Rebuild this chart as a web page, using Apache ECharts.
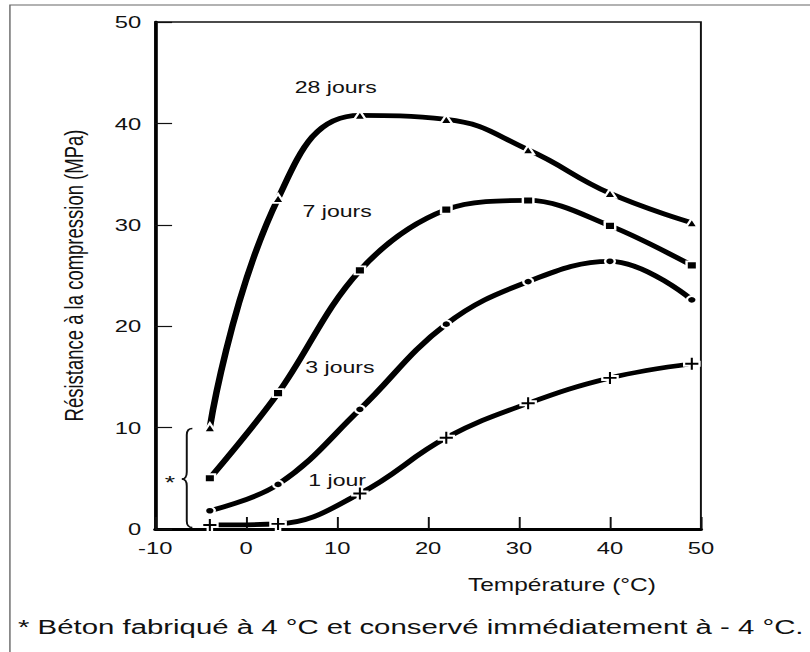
<!DOCTYPE html>
<html>
<head>
<meta charset="utf-8">
<script src="https://cdn.jsdelivr.net/npm/echarts@6/dist/echarts.min.js"></script>
<style>
  html, body { margin: 0; padding: 0; background: #fff; overflow: hidden; }
  #chart { width: 579px; height: 652px; transform: scaleX(1.399); transform-origin: 0 0; }
</style>
</head>
<body>
<div id="chart"></div>
<script>
// Data
const temperatures = [-4, 3.5, 12.5, 22, 31, 40, 49];
const jours28 = [10, 32.6, 40.8, 40.4, 37.4, 33.1, 30.2];
const jours7  = [5, 13.4, 25.5, 31.5, 32.4, 29.9, 26.0];
const jours3  = [1.8, 4.4, 11.8, 20.2, 24.4, 26.4, 22.6];
const jour1   = [0.4, 0.5, 3.5, 9.0, 12.4, 14.9, 16.3];
const seriesNames = ['28 jours', '7 jours', '3 jours', '1 jour'];
const xTicks = [-10, 0, 10, 20, 30, 40, 50];
const yTicks = [0, 10, 20, 30, 40, 50];
const xTitle = 'Température (°C)';
const yTitle = 'Résistance à la compression (MPa)';
const footnote = '* Béton fabriqué à 4 °C et conservé immédiatement à - 4 °C.';

const FONT = '"Liberation Sans", Arial, Helvetica, sans-serif';
const PLUS = 'path://M3.6,0H6.4V3.6H10V6.4H6.4V10H3.6V6.4H0V3.6H3.6Z';

function pairs(ys) { return temperatures.map((t, i) => [t, ys[i]]); }

function curve(name, ys, symbol, size, smooth) {
  return {
    name: name,
    type: 'line',
    data: pairs(ys),
    smooth: smooth,
    symbol: symbol,
    symbolSize: size,
    showSymbol: true,
    lineStyle: { color: '#000', width: 4.7 },
    itemStyle: { color: '#000', borderColor: '#fff', borderWidth: 1.8 },
    emphasis: { disabled: true },
    animation: false
  };
}

const chart = echarts.init(document.getElementById('chart'), null, { renderer: 'svg' });

const labelText = (txt, x, y, size) => ({
  type: 'text',
  silent: true,
  style: { text: txt, x: x, y: y, font: size + 'px ' + FONT, fill: '#111',
           textAlign: 'center', textVerticalAlign: 'middle', verticalAlign: 'middle' }
});
const braceStyle = { fill: 'none', stroke: '#111', lineWidth: 1.4 };
const bez = (x1, y1, cx, cy, x2, y2) => ({ type: 'bezierCurve', silent: true,
  shape: { x1: x1, y1: y1, cpx1: cx, cpy1: cy, x2: x2, y2: y2 }, style: braceStyle });
const seg = (x1, y1, x2, y2) => ({ type: 'line', silent: true,
  shape: { x1: x1, y1: y1, x2: x2, y2: y2 }, style: braceStyle });

chart.setOption({
  backgroundColor: '#fff',
  animation: false,
  grid: { left: 111, right: 78, top: 22, bottom: 123, show: true,
          borderColor: '#111', borderWidth: 1.4, backgroundColor: 'transparent' },
  xAxis: {
    type: 'value', min: xTicks[0], max: xTicks[xTicks.length - 1], interval: 10,
    axisLine: { show: true, onZero: false, lineStyle: { color: '#000', width: 3 } },
    axisTick: { show: true, inside: true, length: 12, lineStyle: { color: '#111', width: 1.4 } },
    axisLabel: { color: '#111', fontSize: 17, fontFamily: FONT, margin: 10 },
    splitLine: { show: false }
  },
  yAxis: {
    type: 'value', min: yTicks[0], max: yTicks[yTicks.length - 1], interval: 10,
    name: yTitle, nameLocation: 'middle', nameGap: 48,
    nameTextStyle: { color: '#111', fontSize: 18.5, fontFamily: FONT },
    axisLine: { show: true, onZero: false, lineStyle: { color: '#000', width: 2.6 } },
    axisTick: { show: true, inside: true, length: 12, lineStyle: { color: '#111', width: 1.2 } },
    axisLabel: { color: '#111', fontSize: 17, fontFamily: FONT, margin: 10 },
    splitLine: { show: false }
  },
  series: [
    curve(seriesNames[0], jours28, 'triangle', [8.5, 9], 0.45),
    curve(seriesNames[1], jours7, 'rect', [7.5, 8], 0.35),
    curve(seriesNames[2], jours3, 'circle', [7, 7.5], 0.4),
    curve(seriesNames[3], jour1, PLUS, [11, 14], 0.4)
  ],
  graphic: [
    { type: 'rect', silent: true, shape: { x: 7.1, y: 5, width: 600, height: 700 },
      style: { fill: 'none', stroke: '#666', lineWidth: 1 } },
    labelText(seriesNames[0], 240, 87, 16.5),
    labelText(seriesNames[1], 241, 211, 16.5),
    labelText(seriesNames[2], 243, 367, 16.5),
    labelText(seriesNames[3], 241, 480, 16.5),
    labelText('*', 121.5, 482, 19),
    bez(137.5, 428.5, 133.5, 428.5, 133.5, 435),
    seg(133.5, 435, 133.5, 472),
    bez(133.5, 472, 133.5, 479, 130, 479),
    bez(130, 479, 133.5, 479, 133.5, 486),
    seg(133.5, 486, 133.5, 521),
    bez(133.5, 521, 133.5, 527.5, 137.5, 527.5),
    labelText(xTitle, 401.7, 585, 17.5),
    { type: 'text', silent: true, style: { text: footnote, x: 12.9, y: 627, font: '21px ' + FONT, fill: '#111',
        textAlign: 'left', textVerticalAlign: 'middle', verticalAlign: 'middle' } }
  ]
});
</script>
</body>
</html>
